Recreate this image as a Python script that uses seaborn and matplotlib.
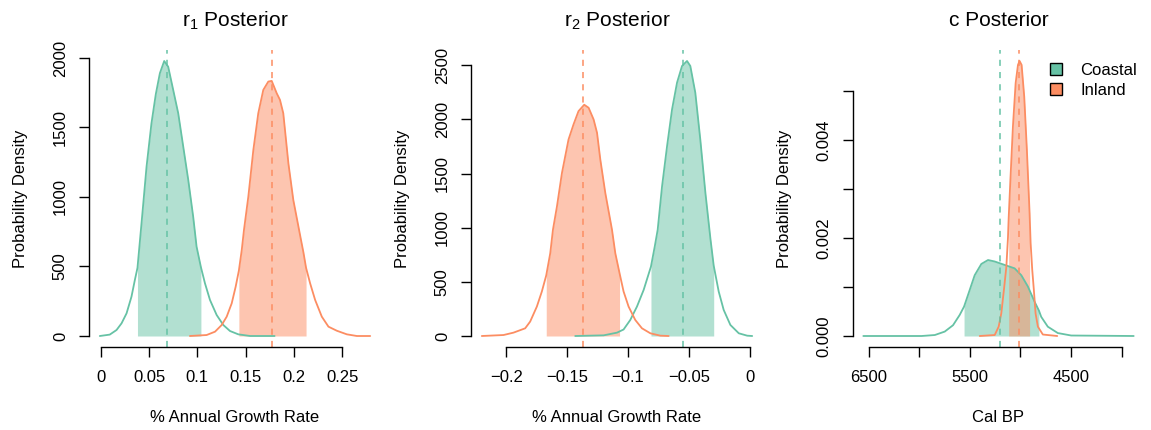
import numpy as np
import matplotlib
matplotlib.use("Agg")
import matplotlib.pyplot as plt
import seaborn as sns
from matplotlib.patches import Patch

# ---------------- data ----------------
groups = ["Coastal", "Inland"]

# r1 posterior
r1_coastal_x = [-0.001, 0.0093, 0.0163, 0.0215, 0.0267, 0.0318, 0.0353, 0.038, 0.0422, 0.0474,
                0.0525, 0.057, 0.0612, 0.0657, 0.0698, 0.075, 0.0802, 0.0854, 0.0906, 0.0957,
                0.0992, 0.1037, 0.1079, 0.1131, 0.12, 0.1269, 0.1338, 0.1424, 0.1546, 0.180]
r1_coastal_y = [0, 10, 43, 91, 163, 283, 403, 490, 811, 1218,
                1530, 1740, 1890, 1978, 1937, 1770, 1602, 1362, 1122, 858,
                643, 495, 379, 259, 151, 79, 36, 12, 0, 0]
r1_inland_x = [0.0923, 0.1096, 0.1183, 0.1252, 0.1304, 0.1356, 0.1397, 0.143, 0.146, 0.1483,
               0.1528, 0.158, 0.1631, 0.1683, 0.1735, 0.177, 0.1822, 0.1856, 0.189, 0.1943,
               0.1994, 0.2071, 0.2099, 0.2126, 0.2168, 0.222, 0.2289, 0.2358, 0.2444, 0.2548,
               0.2652, 0.279]
r1_inland_y = [0, 7, 31, 79, 139, 235, 355, 470, 619, 763,
               1002, 1338, 1602, 1770, 1830, 1835, 1746, 1698, 1602, 1242,
               978, 700, 600, 490, 379, 259, 139, 67, 38, 12,
               0, 0]
r1_hpd = {"Coastal": (0.038, 0.1037), "Inland": (0.143, 0.2126)}
r1_mode = {"Coastal": 0.069, "Inland": 0.1777}

# r2 posterior
r2_coastal_x = [-0.1433, -0.12, -0.109, -0.1036, -0.0981, -0.0926, -0.0871, -0.0811, -0.078, -0.0756,
                -0.072, -0.0679, -0.0638, -0.0597, -0.0556, -0.0515, -0.0488, -0.0447, -0.0406, -0.0364,
                -0.0323, -0.0296, -0.0255, -0.0214, -0.0159, -0.009, -0.0021, 0.002]
r2_coastal_y = [0, 6, 31, 60, 148, 272, 426, 642, 827, 981,
                1383, 1753, 2093, 2340, 2494, 2540, 2494, 2247, 1815, 1321,
                900, 650, 411, 241, 102, 25, 3, 0]
r2_inland_x = [-0.220, -0.2022, -0.194, -0.1844, -0.1803, -0.1748, -0.1707, -0.1671, -0.1638, -0.1616,
               -0.1583, -0.1542, -0.1488, -0.1447, -0.1406, -0.1359, -0.1323, -0.1282, -0.1254, -0.1227,
               -0.1186, -0.1131, -0.1104, -0.1069, -0.1036, -0.0995, -0.094, -0.0885, -0.0816, -0.0734,
               -0.0666]
r2_inland_y = [0, 9, 31, 71, 133, 272, 411, 560, 765, 981,
               1197, 1506, 1815, 1954, 2077, 2136, 2108, 2000, 1877, 1630,
               1321, 981, 765, 580, 411, 272, 148, 71, 25, 3,
               0]
r2_hpd = {"Coastal": (-0.0811, -0.0296), "Inland": (-0.1671, -0.1069)}
r2_mode = {"Coastal": -0.0545, "Inland": -0.1367}

# c posterior (Cal BP)
c_coastal_x = [6553, 5977, 5846, 5748, 5666, 5600, 5557, 5501, 5452, 5386,
               5320, 5254, 5156, 5057, 4991, 4926, 4860, 4817, 4794, 4729,
               4630, 4498, 3880]
c_coastal_y = [0, 0, 0.00002, 0.00009, 0.00022, 0.00043, 0.0006, 0.00094, 0.00124, 0.00147,
               0.00155, 0.00152, 0.00145, 0.00138, 0.00124, 0.00101, 0.0007, 0.00052, 0.00039, 0.00019,
               0.00006, 0.00001, 0]
c_inland_x = [5402, 5254, 5215, 5189, 5163, 5139, 5123, 5116, 5099, 5074,
              5047, 5024, 5008, 4988, 4962, 4936, 4909, 4899, 4883, 4867,
              4850, 4827, 4778, 4636]
c_inland_y = [0, 0.00002, 0.00019, 0.00046, 0.00094, 0.00141, 0.002, 0.0024, 0.00318, 0.00427,
              0.00516, 0.00553, 0.00561, 0.00553, 0.00488, 0.0038, 0.0025, 0.0019, 0.00135, 0.00094,
              0.00046, 0.00019, 0.00003, 0]
c_hpd = {"Coastal": (5557, 4817), "Inland": (5116, 4909)}
c_mode = {"Coastal": 5198, "Inland": 5011}

# ticks / labels
r1_xticks = [0, 0.05, 0.1, 0.15, 0.2, 0.25]
r1_xticklabels = ["0", "0.05", "0.1", "0.15", "0.2", "0.25"]
r1_yticks = [0, 500, 1000, 1500, 2000]
r2_xticks = [-0.2, -0.15, -0.1, -0.05, 0]
r2_xticklabels = ["\u22120.2", "\u22120.15", "\u22120.1", "\u22120.05", "0"]
r2_yticks = [0, 500, 1000, 1500, 2000, 2500]
c_xticks = [6500, 6000, 5500, 5000, 4500, 4000]
c_xticklabels = ["6500", "", "5500", "", "4500", ""]
c_yticks = [0, 0.001, 0.002, 0.003, 0.004, 0.005]
c_yticklabels = ["0.000", "", "0.002", "", "0.004", ""]

titles = ["$r_1$ Posterior", "$r_2$ Posterior", "c Posterior"]
xlabels = ["% Annual Growth Rate", "% Annual Growth Rate", "Cal BP"]
ylabel = "Probability Density"

# ---------------- styling ----------------
sns.set_style("white")
plt.rcParams["font.family"] = ["Liberation Sans", "DejaVu Sans"]
plt.rcParams["mathtext.fontset"] = "custom"
plt.rcParams["mathtext.rm"] = "Liberation Sans"
plt.rcParams["mathtext.it"] = "Liberation Sans"
plt.rcParams["mathtext.default"] = "regular"
plt.rcParams["text.color"] = "black"
plt.rcParams["axes.labelcolor"] = "black"

COLORS = {"Coastal": "#66C2A5", "Inland": "#FC8D62"}
FS = 12

W, H = 1151, 430
fig = plt.figure(figsize=(W / 100, H / 100), dpi=100)
lefts = [89, 471, 852.5]
ax_w, ax_top, ax_bot = 292, 50, 347
axes = [fig.add_axes([l / W, (H - ax_bot) / H, ax_w / W, (ax_bot - ax_top) / H]) for l in lefts]

panels = [
    ({"Coastal": (r1_coastal_x, r1_coastal_y), "Inland": (r1_inland_x, r1_inland_y)}, r1_hpd, r1_mode,
     r1_xticks, r1_xticklabels, r1_yticks, [str(v) for v in r1_yticks], False),
    ({"Coastal": (r2_coastal_x, r2_coastal_y), "Inland": (r2_inland_x, r2_inland_y)}, r2_hpd, r2_mode,
     r2_xticks, r2_xticklabels, r2_yticks, [str(v) for v in r2_yticks], False),
    ({"Coastal": (c_coastal_x, c_coastal_y), "Inland": (c_inland_x, c_inland_y)}, c_hpd, c_mode,
     c_xticks, c_xticklabels, c_yticks, c_yticklabels, True),
]

for i, (ax, (curves, hpd, mode, xt, xtl, yt, ytl, rev)) in enumerate(zip(axes, panels)):
    allx, ally = [], []
    for g in groups:
        x = np.asarray(curves[g][0], dtype=float)
        y = np.asarray(curves[g][1], dtype=float)
        allx += list(x); ally += list(y)
        lo, hi = min(hpd[g]), max(hpd[g])
        m = (x >= lo) & (x <= hi)
        ax.fill_between(x[m], 0, y[m], color=COLORS[g], alpha=0.5, linewidth=0)
        sns.lineplot(x=x, y=y, ax=ax, color=COLORS[g], linewidth=1.3, sort=False)
    for g in groups:
        ax.axvline(mode[g], color=COLORS[g], linewidth=1.1, linestyle=(0, (4, 4)))
    # R-like 4% padding
    x0, x1 = min(allx), max(allx)
    y0, y1 = min(ally), max(ally)
    px, py = 0.04 * (x1 - x0), 0.04 * (y1 - y0)
    if rev:
        ax.set_xlim(x1 + px, x0 - px)
    else:
        ax.set_xlim(x0 - px, x1 + px)
    ax.set_ylim(y0 - py, y1 + py)

    ax.set_xticks(xt)
    ax.set_xticklabels(xtl)
    ax.set_yticks(yt)
    ax.set_yticklabels(ytl)
    for s in ["top", "right"]:
        ax.spines[s].set_visible(False)
    for s in ["left", "bottom"]:
        ax.spines[s].set_linewidth(1.0)
        ax.spines[s].set_color("black")
    ax.spines["bottom"].set_bounds(min(xt), max(xt))
    ax.spines["left"].set_bounds(min(yt), max(yt))
    ax.tick_params(axis="both", direction="out", length=7.2, width=1.0, colors="black",
                   labelsize=FS, bottom=True, left=True)
    ax.tick_params(axis="x", pad=9)
    ax.tick_params(axis="y", pad=8, labelrotation=90)
    for t in ax.get_yticklabels():
        t.set_va("center")
    ax.set_xlabel("")
    ax.set_ylabel("")
    ax.grid(False)

    cx = (lefts[i] + ax_w / 2) / W
    fig.text(cx, 1 - 26.5 / H, titles[i], ha="center", va="baseline", fontsize=15)
    fig.text(cx, 1 - 421.5 / H, xlabels[i], ha="center", va="baseline", fontsize=FS)
    fig.text((lefts[i] - 64) / W, 1 - 198.5 / H, ylabel, ha="center", va="baseline",
             rotation=90, rotation_mode="anchor", fontsize=FS)

handles = [Patch(facecolor=COLORS[g], edgecolor="black", linewidth=1.0) for g in groups]
axes[2].legend(handles, groups, loc="upper left", bbox_to_anchor=(1050 / W, 1 - 63 / H),
               bbox_transform=fig.transFigure, frameon=False, borderpad=0, borderaxespad=0,
               handlelength=0.7, handleheight=0.7, handletextpad=1.1, labelspacing=0.3,
               fontsize=FS)

fig.savefig("out.png", dpi=100)
